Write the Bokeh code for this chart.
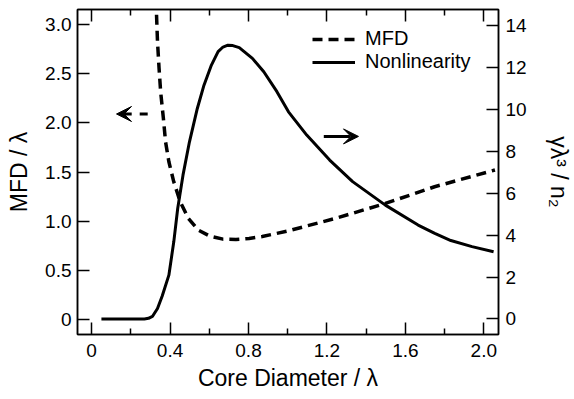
from bokeh.plotting import figure
from bokeh.models import (Range1d, LinearAxis, FixedTicker, Arrow, VeeHead, Legend,
                          LegendItem, PrintfTickFormatter)
from bokeh.embed import file_html
from bokeh.resources import INLINE

# ---- data ----
core_d_mfd = [0.331, 0.336, 0.344, 0.352, 0.366, 0.377, 0.394, 0.419, 0.452, 0.494,
              0.544, 0.603, 0.67, 0.736, 0.803, 0.87, 0.937, 1.004, 1.247, 1.498,
              1.749, 2.057]
mfd_vals = [3.10, 2.825, 2.553, 2.316, 2.045, 1.808, 1.604, 1.40, 1.197, 1.027,
            0.909, 0.848, 0.817, 0.814, 0.824, 0.844, 0.872, 0.902, 1.03, 1.18,
            1.35, 1.52]

core_d_nl = [0.05, 0.269, 0.29, 0.31, 0.336, 0.36, 0.394, 0.419, 0.439, 0.466,
             0.499, 0.539, 0.573, 0.611, 0.645, 0.67, 0.695, 0.72, 0.753, 0.82,
             0.878, 0.945, 1.004, 1.097, 1.214, 1.331, 1.498, 1.665, 1.75, 1.832,
             1.94, 2.05]
nl_vals = [0.0, 0.0, 0.03, 0.12, 0.5, 1.1, 2.09, 3.68, 5.27, 6.86,
           8.45, 10.04, 11.15, 12.11, 12.75, 12.97, 13.06, 13.04, 12.94, 12.43,
           11.79, 10.84, 9.88, 8.77, 7.58, 6.55, 5.43, 4.48, 4.08, 3.74,
           3.45, 3.21]

x_ticks = [0, 0.4, 0.8, 1.2, 1.6, 2.0]
x_minor = [0.2, 0.6, 1.0, 1.4, 1.8]
left_ticks = [0, 0.5, 1.0, 1.5, 2.0, 2.5, 3.0]
right_ticks = [0, 2, 4, 6, 8, 10, 12, 14]

# arrows (data coords): [x_start, x_end, y]
arrow_left = [0.286, 0.127, 2.09]
arrow_right = [1.184, 1.361, 1.862]

FONT = "Liberation Sans"

p = figure(width=574, height=399, output_backend="svg", toolbar_location=None,
           x_range=Range1d(-0.072, 2.075), y_range=Range1d(-0.153, 3.153),
           min_border_left=77, min_border_right=69, min_border_top=9,
           min_border_bottom=65, x_axis_label="Core Diameter / λ",
           y_axis_label="MFD / λ")
p.extra_y_ranges = {"nl": Range1d(-0.74, 14.76)}
p.grid.visible = False
p.outline_line_color = "black"
p.outline_line_width = 1.5
p.background_fill_color = "white"
p.border_fill_color = "white"


def style(ax, size="19px"):
    ax.axis_line_color = "black"
    ax.axis_line_width = 1.5
    ax.major_tick_in = 12
    ax.major_tick_out = 0
    ax.minor_tick_in = 6
    ax.minor_tick_out = 0
    ax.major_tick_line_width = 1.5
    ax.minor_tick_line_width = 1.5
    ax.major_tick_line_color = "black"
    ax.minor_tick_line_color = "black"
    ax.major_label_text_font = FONT
    ax.major_label_text_font_size = size
    ax.major_label_text_color = "black"
    ax.axis_label_text_font = FONT
    ax.axis_label_text_font_size = "23px"
    ax.axis_label_text_font_style = "normal"
    ax.axis_label_text_color = "black"


xax = p.xaxis[0]
style(xax)
xax.ticker = FixedTicker(ticks=x_ticks, minor_ticks=x_minor)
xax.formatter = PrintfTickFormatter(format="%.1f")
xax.major_label_overrides = {0: "0"}
xax.major_label_standoff = 9
xax.axis_label_standoff = 5

yax = p.yaxis[0]
style(yax)
yax.ticker = FixedTicker(ticks=left_ticks, minor_ticks=[])
yax.formatter = PrintfTickFormatter(format="%.1f")
yax.major_label_overrides = {0: "0"}
yax.major_label_standoff = 6
yax.axis_label_standoff = 10

rax = LinearAxis(y_range_name="nl", axis_label="γλ³ / n₂")
style(rax)
rax.ticker = FixedTicker(ticks=right_ticks, minor_ticks=[])
rax.major_label_standoff = 7
rax.axis_label_standoff = 16
p.add_layout(rax, "right")

tax = LinearAxis()
style(tax, size="1px")
tax.ticker = FixedTicker(ticks=x_ticks, minor_ticks=x_minor)
tax.major_label_overrides = {t: "" for t in x_ticks}
tax.major_label_standoff = 0
p.add_layout(tax, "above")

mfd = p.line(core_d_mfd, mfd_vals, line_color="black", line_width=3.5,
             line_dash="10 6", line_join="round")
nl = p.line(core_d_nl, nl_vals, y_range_name="nl", line_color="black",
            line_width=3, line_join="round")

p.add_layout(Arrow(end=VeeHead(size=15, fill_color="black", line_color="black"),
                   x_start=arrow_left[0], x_end=arrow_left[1],
                   y_start=arrow_left[2], y_end=arrow_left[2],
                   line_width=3, line_dash="8 8", line_color="black"))
p.add_layout(Arrow(end=VeeHead(size=15, fill_color="black", line_color="black"),
                   x_start=arrow_right[0], x_end=arrow_right[1],
                   y_start=arrow_right[2], y_end=arrow_right[2],
                   line_width=3, line_color="black"))

legend = Legend(items=[LegendItem(label="MFD", renderers=[mfd]),
                       LegendItem(label="Nonlinearity", renderers=[nl])],
                location=(235, 261), padding=0, margin=0, spacing=0,
                glyph_width=43, glyph_height=22, label_height=22,
                label_standoff=10, border_line_color=None,
                background_fill_color=None,
                label_text_font=FONT, label_text_font_size="20px",
                label_text_color="black")
p.add_layout(legend)

open("out.html", "w").write(file_html(p, INLINE))
